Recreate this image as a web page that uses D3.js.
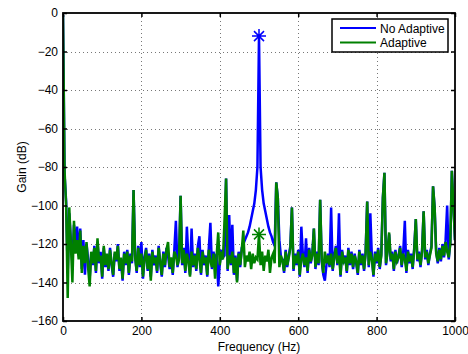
<!DOCTYPE html>
<html>
<head>
<meta charset="utf-8">
<script src="https://cdn.jsdelivr.net/npm/d3@7"></script>
<style>
  body { margin: 0; background: #fff; }
  svg { font-family: "Liberation Sans", Arial, Helvetica, sans-serif; }
</style>
</head>
<body>
<div id="chart"></div>
<script>
// spectrum sampled every 4 Hz, 0..1000 Hz
const freqStep = 4;
const xTicks = [0, 200, 400, 600, 800, 1000];
const yTicks = [-160, -140, -120, -100, -80, -60, -40, -20, 0];
const seriesNames = ['No Adaptive', 'Adaptive'];
const markerFreq = 500;

const noAdaptive = [
  -1, -84, -98, -135, -104, -118, -130, -110, -120, -111,        // 0-36
  -126, -112, -133, -118, -136, -120, -128, -138, -125, -131,    // 40-76
  -121, -135, -119, -130, -124, -138, -122, -132, -126, -134,    // 80-116
  -122, -131, -137, -125, -129, -120, -134, -128, -139, -124,    // 120-156
  -131, -123, -136, -125, -130, -92, -126, -135, -121, -132,     // 160-196
  -119, -138, -127, -122, -134, -125, -137, -123, -131, -126,    // 200-236
  -135, -121, -130, -137, -124, -132, -122, -126, -133, -128,    // 240-276
  -136, -123, -108, -132, -127, -95, -131, -122, -135, -111,     // 280-316
  -128, -136, -112, -132, -125, -134, -121, -116, -136, -123,    // 320-356
  -131, -126, -137, -122, -109, -133, -124, -130, -125, -142,    // 360-396
  -130, -123, -127, -126, -86, -134, -105, -131, -110, -136,     // 400-436
  -126, -139, -124, -132, -122, -120, -118, -116, -114, -111,    // 440-476
  -107, -103, -99, -92, -80, -12, -80, -92, -99, -103,           // 480-516
  -107, -111, -114, -116, -119, -121, -88, -96, -118, -127,      // 520-556
  -128, -135, -123, -132, -126, -121, -101, -134, -125, -131,    // 560-596
  -123, -137, -111, -126, -132, -117, -135, -122, -130, -125,    // 600-636
  -112, -133, -124, -131, -97, -129, -136, -139, -131, -125,     // 640-676
  -132, -101, -134, -126, -121, -131, -104, -137, -123, -130,    // 680-716
  -126, -135, -122, -131, -124, -133, -125, -130, -136, -123,    // 720-756
  -131, -125, -134, -124, -98, -132, -104, -127, -137, -124,     // 760-796
  -130, -122, -133, -125, -96, -83, -131, -123, -115, -129,      // 800-836
  -124, -134, -123, -130, -126, -121, -132, -124, -108, -135,    // 840-876
  -123, -130, -125, -133, -122, -107, -129, -124, -132, -123,    // 880-916
  -103, -128, -123, -131, -125, -121, -90, -101, -124, -130,     // 920-956
  -122, -129, -120, -127, -118, -100, -128, -119, -82, -100,     // 960-996
  -118                                                           // 1000
];

const adaptive = [
  -1, -82, -100, -148, -101, -120, -140, -108, -125, -118,       // 0-36
  -128, -113, -135, -121, -130, -119, -132, -142, -124, -130,    // 40-76
  -122, -134, -117, -129, -126, -137, -121, -131, -125, -133,    // 80-116
  -123, -130, -136, -124, -128, -121, -133, -127, -138, -125,    // 120-156
  -130, -124, -135, -126, -129, -92, -127, -134, -122, -131,     // 160-196
  -125, -137, -128, -123, -133, -126, -139, -124, -130, -127,    // 200-236
  -134, -122, -129, -136, -125, -131, -123, -119, -132, -127,    // 240-276
  -135, -124, -126, -131, -128, -95, -130, -123, -134, -125,     // 280-316
  -129, -137, -124, -131, -126, -133, -122, -128, -135, -124,    // 320-356
  -130, -127, -136, -123, -129, -132, -125, -138, -126, -114,    // 360-396
  -131, -124, -128, -108, -86, -133, -126, -130, -124, -135,     // 400-436
  -127, -140, -125, -131, -123, -113, -132, -126, -129, -124,    // 440-476
  -133, -125, -130, -127, -128, -115, -131, -124, -134, -126,    // 480-516
  -129, -123, -135, -127, -125, -130, -88, -96, -132, -126,      // 520-556
  -129, -134, -124, -131, -127, -122, -101, -133, -126, -130,    // 560-596
  -124, -136, -128, -125, -131, -127, -134, -123, -129, -126,    // 600-636
  -112, -132, -125, -130, -97, -128, -135, -124, -130, -126,     // 640-676
  -131, -125, -133, -127, -122, -130, -126, -136, -124, -129,    // 680-716
  -127, -134, -123, -130, -125, -132, -126, -129, -135, -124,    // 720-756
  -130, -126, -133, -125, -98, -131, -124, -128, -136, -125,     // 760-796
  -129, -123, -132, -126, -96, -83, -130, -124, -114, -128,      // 800-836
  -125, -133, -124, -129, -127, -122, -131, -125, -128, -134,    // 840-876
  -124, -129, -126, -132, -123, -107, -128, -125, -131, -124,    // 880-916
  -103, -127, -124, -130, -126, -122, -90, -101, -125, -129,     // 920-956
  -123, -128, -121, -126, -119, -124, -127, -120, -82, -100,     // 960-996
  -118                                                           // 1000
];

const colors = ['#0000ff', '#008000'];
const width = 468, height = 354;
const margin = { top: 13, right: 13, bottom: 33, left: 63 };
const plotW = width - margin.left - margin.right;
const plotH = height - margin.top - margin.bottom;

const svg = d3.select('#chart').append('svg')
  .attr('width', width)
  .attr('height', height);

const x = d3.scaleLinear().domain([0, 1000]).range([margin.left, margin.left + plotW]);
const y = d3.scaleLinear().domain([-160, 0]).range([margin.top + plotH, margin.top]);

svg.append('rect')
  .attr('x', margin.left).attr('y', margin.top)
  .attr('width', plotW).attr('height', plotH)
  .attr('fill', '#fff');

// dotted grid
const grid = svg.append('g').attr('stroke', '#777').attr('stroke-width', 1).attr('stroke-dasharray', '1,3');
grid.selectAll('.gx').data(xTicks.slice(1, -1)).enter().append('line')
  .attr('x1', d => Math.round(x(d)) + 0.5).attr('x2', d => Math.round(x(d)) + 0.5)
  .attr('y1', margin.top).attr('y2', margin.top + plotH);
grid.selectAll('.gy').data(yTicks.slice(1, -1)).enter().append('line')
  .attr('y1', d => Math.round(y(d)) + 0.5).attr('y2', d => Math.round(y(d)) + 0.5)
  .attr('x1', margin.left).attr('x2', margin.left + plotW);

svg.append('clipPath').attr('id', 'clip').append('rect')
  .attr('x', margin.left).attr('y', margin.top)
  .attr('width', plotW).attr('height', plotH);

const line = d3.line()
  .x((d, i) => x(i * freqStep))
  .y(d => y(d));

const plot = svg.append('g').attr('clip-path', 'url(#clip)');
[noAdaptive, adaptive].forEach((vals, k) => {
  plot.append('path')
    .datum(vals)
    .attr('fill', 'none')
    .attr('stroke', colors[k])
    .attr('stroke-width', 2.5)
    .attr('d', line);
});

// asterisk markers at the tone frequency
const mi = markerFreq / freqStep;
[noAdaptive, adaptive].forEach((vals, k) => {
  const cx = x(markerFreq), cy = y(vals[mi]);
  const r = 7, rd = 5;
  svg.append('path')
    .attr('d', `M${cx - r},${cy}H${cx + r}M${cx},${cy - r}V${cy + r}` +
      `M${cx - rd},${cy - rd}L${cx + rd},${cy + rd}M${cx - rd},${cy + rd}L${cx + rd},${cy - rd}`)
    .attr('stroke', colors[k])
    .attr('stroke-width', 1.5)
    .attr('fill', 'none');
});

// axes, ticks inward on all four sides
const fmt = d3.format('');
const axes = [
  { a: d3.axisBottom(x).tickValues(xTicks).tickFormat(fmt), t: `translate(0,${margin.top + plotH})` },
  { a: d3.axisTop(x).tickValues(xTicks).tickFormat(''), t: `translate(0,${margin.top})` },
  { a: d3.axisLeft(y).tickValues(yTicks).tickFormat(fmt), t: `translate(${margin.left},0)` },
  { a: d3.axisRight(y).tickValues(yTicks).tickFormat(''), t: `translate(${margin.left + plotW},0)` }
];
axes.forEach(ax => {
  const g = svg.append('g')
    .attr('transform', ax.t)
    .call(ax.a.tickSize(-4).tickPadding(5));
  g.select('.domain').remove();
  g.selectAll('line').attr('stroke', '#000').attr('stroke-width', 1.5);
  g.selectAll('text').attr('font-size', 12).attr('fill', '#000').attr('font-family', null);
});

svg.append('rect')
  .attr('x', margin.left).attr('y', margin.top)
  .attr('width', plotW).attr('height', plotH)
  .attr('fill', 'none')
  .attr('stroke', '#000')
  .attr('stroke-width', 1.8);

// axis labels
svg.append('text')
  .attr('x', x(500)).attr('y', 351)
  .attr('text-anchor', 'middle')
  .attr('font-size', 12)
  .text('Frequency (Hz)');

svg.append('text')
  .attr('transform', `translate(26,${margin.top + plotH / 2}) rotate(-90)`)
  .attr('text-anchor', 'middle')
  .attr('font-size', 12)
  .text('Gain (dB)');

// legend
const lg = svg.append('g');
lg.append('rect')
  .attr('x', 332).attr('y', 19)
  .attr('width', 116).attr('height', 33)
  .attr('fill', '#fff')
  .attr('stroke', '#000')
  .attr('stroke-width', 1.5);
seriesNames.forEach((name, k) => {
  const ly = 28 + k * 14.5;
  lg.append('line')
    .attr('x1', 340).attr('x2', 376)
    .attr('y1', ly).attr('y2', ly)
    .attr('stroke', colors[k])
    .attr('stroke-width', 2);
  lg.append('text')
    .attr('x', 380).attr('y', ly + 4.5)
    .attr('font-size', 12)
    .text(name);
});
</script>
</body>
</html>
